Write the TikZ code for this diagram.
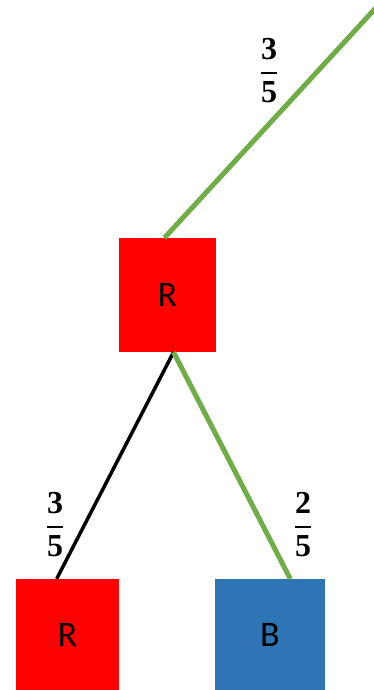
\RequirePackage{fix-cm}
\documentclass[tikz,border=0pt]{standalone}
\usepackage{amsmath}
\usepackage[no-math]{fontspec}
\setmainfont{Carlito}
\newfontfamily\fracfont{Liberation Serif}
\usepackage{tikz}
\usetikzlibrary{positioning}
\usepackage{xcolor}
\definecolor{ballred}{RGB}{255, 0, 0}
\definecolor{ballblue}{RGB}{46, 117, 182}
\definecolor{pathgreen}{RGB}{112, 173, 71}

\newcommand{\probfrac}[2]{$\genfrac{}{}{2pt}{0}{\text{\fracfont\bfseries #1}}{\text{\fracfont\bfseries #2}}$}

\tikzset{
  ballbox/.style={inner sep=0pt, font=\fontsize{36}{40}\selectfont},
  prob/.style={inner sep=0pt, font=\fontsize{32}{36}\selectfont},
  greenpath/.style={draw=pathgreen, line width=5pt},
  blackpath/.style={draw=black, line width=3.5pt}
}

\begin{document}
\begin{tikzpicture}[x=1pt, y=-1pt]
\clip (0,0) rectangle (374,690);
\node[ballbox, fill=ballred, minimum width=97pt, minimum height=114pt] (rtop) at (167.5,295) {R};
\node[ballbox, fill=ballred, minimum width=103pt, minimum height=111pt] (rleft) at (67.5,634.5) {R};
\node[ballbox, fill=ballblue, minimum width=110pt, minimum height=111pt] (bright) at (270,634.5) {B};
\coordinate (topend) at (384,-1);
% branches
\draw[greenpath] (rtop.93) -- (topend);
\draw[blackpath] (rtop.-84) -- (rleft.101);
\draw[greenpath] (rtop.-84) -- (bright.70);
% probabilities
\node[prob] (ptop) at (269,70.5) {\probfrac{3}{5}};
\node[prob] (pleft) at (55,524.5) {\probfrac{3}{5}};
\node[prob] (pright) at (303,524.5) {\probfrac{2}{5}};
\end{tikzpicture}
\end{document}
